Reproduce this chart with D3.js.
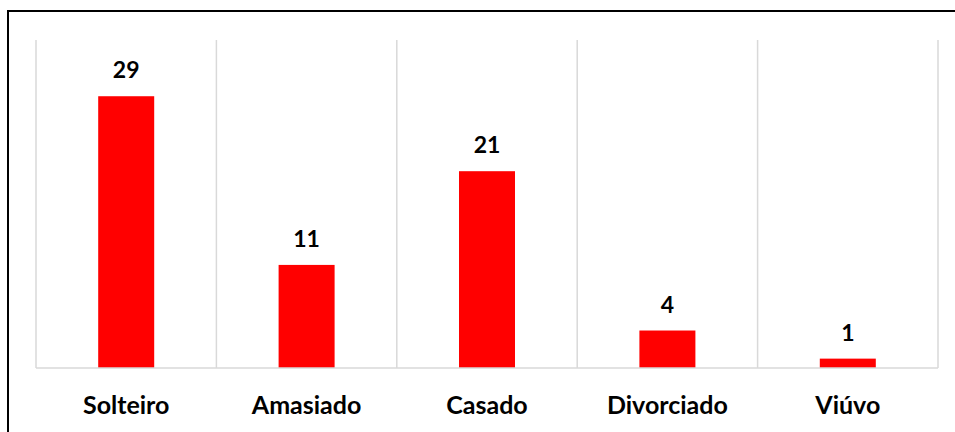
<!DOCTYPE html>
<html>
<head>
<meta charset="utf-8">
<script src="https://cdn.jsdelivr.net/npm/d3@7"></script>
<style>
  body { margin: 0; background: #fff; }
  text { font-family: Lato, "Open Sans", sans-serif; font-weight: bold; fill: #000; }
</style>
</head>
<body>
<div id="chart"></div>
<script>
// estado civil counts
var categories = ['Solteiro', 'Amasiado', 'Casado', 'Divorciado', 'Viúvo'];
var values = [29, 11, 21, 4, 1];

var cfg = {
    w: 955,
    h: 432,
    left: 36,
    right: 938,
    top: 40,
    base: 368,
    barcolor: '#ff0000',
    gridcolor: '#d9d9d9'
};

var svg = d3.select('#chart').append('svg')
    .attr('width', cfg.w)
    .attr('height', cfg.h);

// outer frame (only left and top edges visible in the picture)
svg.append('path')
    .attr('d', 'M8,' + cfg.h + ' V11 H' + (cfg.w + 5))
    .attr('fill', 'none')
    .attr('stroke', '#000')
    .attr('stroke-width', 2);

var x = d3.scaleBand()
    .domain(categories)
    .range([cfg.left, cfg.right])
    .paddingInner(0)
    .paddingOuter(0);

var y = d3.scaleLinear()
    .domain([0, 35])
    .range([cfg.base, cfg.top]);

// vertical separators between categories
var edges = categories.map(function(c) { return x(c); }).concat([cfg.right]);
svg.append('g').selectAll('line').data(edges).enter()
    .append('line')
    .attr('x1', function(d) { return d; })
    .attr('x2', function(d) { return d; })
    .attr('y1', cfg.top)
    .attr('y2', cfg.base)
    .attr('stroke', cfg.gridcolor)
    .attr('stroke-width', 1.5);

var barW = 56;

svg.append('g').selectAll('rect').data(values).enter()
    .append('rect')
    .attr('x', function(d, i) { return x(categories[i]) + x.bandwidth() / 2 - barW / 2; })
    .attr('y', function(d) { return y(d); })
    .attr('width', barW)
    .attr('height', function(d) { return cfg.base - y(d); })
    .attr('fill', cfg.barcolor);

// baseline
svg.append('line')
    .attr('x1', cfg.left)
    .attr('x2', cfg.right)
    .attr('y1', cfg.base)
    .attr('y2', cfg.base)
    .attr('stroke', cfg.gridcolor)
    .attr('stroke-width', 1.5);

// value labels
svg.append('g').selectAll('text').data(values).enter()
    .append('text')
    .attr('x', function(d, i) { return x(categories[i]) + x.bandwidth() / 2; })
    .attr('y', function(d) { return y(d) - 18; })
    .attr('text-anchor', 'middle')
    .style('font-size', '23px')
    .text(function(d) { return d; });

// category labels
svg.append('g').selectAll('text').data(categories).enter()
    .append('text')
    .attr('x', function(d) { return x(d) + x.bandwidth() / 2; })
    .attr('y', 414)
    .attr('text-anchor', 'middle')
    .style('font-size', '25px')
    .text(function(d) { return d; });
</script>
</body>
</html>
